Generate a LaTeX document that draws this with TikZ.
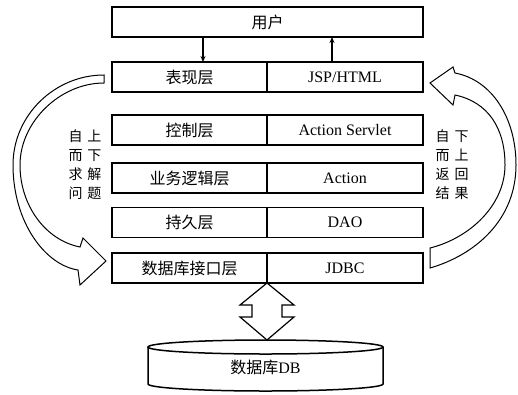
\documentclass[tikz,border=0pt]{standalone}
\usepackage{fontspec}
\setmainfont{Liberation Serif}
\newfontfamily\cjk{Noto Sans CJK SC}
\usetikzlibrary{positioning,arrows.meta}
\newcommand\gap{\hspace{5pt}}

\begin{document}
\begin{tikzpicture}%
	[x=1pt, y=-1pt,
	layer/.style={draw, line width=1.5pt, rectangle, minimum height=30pt, inner sep=0pt, outer sep=0pt, font=\cjk\fontsize{16}{18}\selectfont},
	leftlayer/.style={layer, minimum width=155pt},
	rightlayer/.style={layer, minimum width=156pt, font=\fontsize{16}{18}\selectfont},
	flow/.style={line width=1.3pt, -{Stealth[length=6pt,width=5pt]}},
	hollow/.style={draw, line width=1.2pt, fill=white, line join=miter},
	curvearrow/.style={draw, line width=1pt, fill=white},
	dbline/.style={line width=1.5pt},
	sidetext/.style={align=center, inner sep=0pt, font=\cjk\fontsize{14}{19}\selectfont}]

\useasboundingbox (0,0) rectangle (518,394);

\node[layer, minimum width=311pt] (user) at (267.5,22) {用户};

\node[leftlayer] (pres) at (189.5,77) {表现层};
\node[rightlayer, right=0pt of pres] (presr) {JSP/HTML};
\node[leftlayer] (ctrl) at (189.5,130) {控制层};
\node[rightlayer, right=0pt of ctrl] (ctrlr) {Action Servlet};
\node[leftlayer] (biz) at (189.5,178) {业务逻辑层};
\node[rightlayer, right=0pt of biz] (bizr) {Action};
\node[leftlayer] (pers) at (189.5,222.5) {持久层};
\node[rightlayer, right=0pt of pers] (persr) {DAO};
\node[leftlayer] (dbi) at (189.5,268) {数据库接口层};
\node[rightlayer, right=0pt of dbi] (dbir) {JDBC};

\coordinate (req) at ([xshift=13.5pt]pres.north);
\coordinate (resp) at ([xshift=-13pt]presr.north);
\draw[flow] (user.south -| req) -- (req);
\draw[flow] (resp) -- (user.south -| resp);

\draw[hollow] (dbi.south east) -- ++(-27,22) -- ++(12,0) -- ++(0,12) -- ++(-12,0) -- ++(27,23)
	-- ++(27,-23) -- ++(-12,0) -- ++(0,-12) -- ++(12,0) -- cycle;

\draw[dbline] (148,347) -- (148,384) arc[start angle=180, end angle=0, x radius=117.5, y radius=7] -- (383,347);
\draw[dbline] (265.5,347) ellipse [x radius=117.5, y radius=7];
\node[font=\fontsize{16}{18}\selectfont] (db) at (265.5,367) {{\cjk 数据库}DB};

\draw[curvearrow] (104,75) .. controls (55,75) and (13,115) .. (13,165) .. controls (13,222) and (45,265) .. (78,270)
	-- (80,285) -- (106,261) -- (83,238) -- (80,247) .. controls (45,240) and (20,205) .. (20,165)
	.. controls (20,122) and (60,83) .. (104,83) -- cycle;
\draw[curvearrow] (430,83) -- (453,67) -- (455,73) .. controls (492,80) and (516,118) .. (516,165)
	.. controls (516,220) and (475,255) .. (430,268) -- (430,248) .. controls (470,238) and (505,205) .. (505,165)
	.. controls (505,128) and (488,102) .. (455,95) -- (453,105) -- cycle;

\node[sidetext] (down) at (85,165) {自\gap 上\\而\gap 下\\求\gap 解\\问\gap 题};
\node[sidetext] (up) at (452,165) {自\gap 下\\而\gap 上\\返\gap 回\\结\gap 果};
\end{tikzpicture}
\end{document}
